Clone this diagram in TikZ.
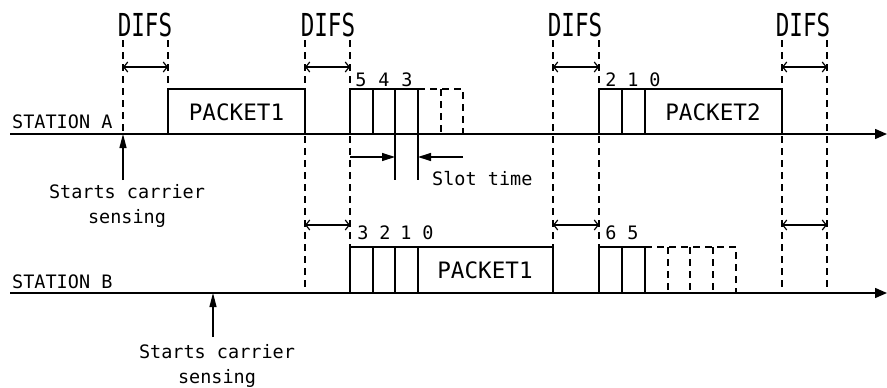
\documentclass[tikz,border=0pt]{standalone}
\usepackage{fontspec}
\setmonofont{DejaVu Sans Mono}
\usetikzlibrary{arrows.meta}

\tikzset{
  axis/.style={line width=1.5pt, -{Triangle[length=12pt,width=10pt]}},
  guide/.style={line width=1.3pt, dash pattern=on 7pt off 5pt},
  frame/.style={line width=1.2pt},
  ghost/.style={line width=1.2pt, dash pattern=on 7pt off 5pt},
  difs/.style={line width=1.2pt, {Straight Barb[length=4pt,width=10pt]}-{Straight Barb[length=4pt,width=10pt]}},
  sense/.style={line width=1.2pt, -{Triangle[length=14pt,width=7pt]}},
  tick/.style={line width=1.2pt, -{Triangle[length=13pt,width=8pt]}},
  txt/.style={font=\ttfamily\fontsize{18.5}{25}\selectfont, inner sep=0pt},
  big/.style={font=\ttfamily\fontsize{22.6}{26}\selectfont, inner sep=0pt},
}

\begin{document}
\begin{tikzpicture}[x=1pt,y=-1pt]
    \useasboundingbox (0,0) rectangle (887,388);

    % Time axes
    \coordinate (A0) at (10,134);
    \coordinate (A1) at (887,134);
    \coordinate (B0) at (10,293);
    \coordinate (B1) at (887,293);
    \draw[axis] (A0) -- (A1);
    \draw[axis] (B0) -- (B1);
    \node[txt, anchor=base west] (staA) at (12,128) {STATION A};
    \node[txt, anchor=base west] (staB) at (12,288) {STATION B};

    % DIFS guides
    \foreach \x/\y in {123/134,168/89,305/293,350/247,553/293,599/247,782/293,827/293}
        \draw[guide] (\x,40) -- (\x,\y);
    \foreach \a/\b/\c [count=\i] in {123/168/145,305/350/328,553/599/575,782/827/803}{
        \draw[difs] (\a,67) -- (\b,67);
        \node[big] (difs\i) at (\c,25) {\scalebox{1}[1.4]{DIFS}};
    }
    \foreach \a/\b in {305/350,553/599,782/827}
        \draw[difs] (\a,225) -- (\b,225);

    % Station A
    \draw[frame] (168,134) |- (305,89) -- (305,134);
    \node[big] (pktA1) at (236.5,112) {PACKET1};
    \draw[frame] (350,134) |- (418,89) -- (418,134) (373,89) -- (373,134) (395,89) -- (395,134);
    \draw[ghost] (418,89) -- (463,89) -- (463,134) (441,89) -- (441,134);
    \foreach \n/\x in {5/361,4/384,3/407}
        \node[txt] (ca\n) at (\x,80) {\n};
    \draw[frame] (599,134) |- (782,89) -- (782,134) (622,89) -- (622,134) (645,89) -- (645,134);
    \node[big] (pktA2) at (713,112) {PACKET2};
    \foreach \n/\x in {2/611,1/633,0/655}
        \node[txt] (cb\n) at (\x,80) {\n};

    % Slot time
    \draw[frame] (395,134) -- (395,180) (418,134) -- (418,180);
    \draw[tick] (350,157) -- (395,157);
    \draw[tick] (463,157) -- (418,157);
    \node[txt, anchor=base west] (slot) at (432,185) {Slot time};

    % Station B
    \draw[frame] (350,293) |- (553,247) -- (553,293) (373,247) -- (373,293) (395,247) -- (395,293) (418,247) -- (418,293);
    \node[big] (pktB1) at (485,270) {PACKET1};
    \foreach \n/\x in {3/363,2/385,1/406,0/428}
        \node[txt] (cc\n) at (\x,233) {\n};
    \draw[frame] (599,293) |- (645,247) -- (645,293) (622,247) -- (622,293);
    \draw[ghost] (645,247) -- (736,247) -- (736,293) (668,247) -- (668,293) (690,247) -- (690,293) (713,247) -- (713,293);
    \foreach \n/\x in {6/611,5/633}
        \node[txt] (cd\n) at (\x,233) {\n};

    % Carrier sensing
    \node[txt, align=center, anchor=north] (csA) at (127,184) {Starts carrier\\sensing};
    \node[txt, align=center, anchor=north] (csB) at (217,344) {Starts carrier\\sensing};
    \coordinate (sA) at (123,180);
    \coordinate (tA) at (123,134);
    \coordinate (sB) at (213,337);
    \coordinate (tB) at (213,293);
    \draw[sense] (sA) -- (tA);
    \draw[sense] (sB) -- (tB);

\end{tikzpicture}
\end{document}
